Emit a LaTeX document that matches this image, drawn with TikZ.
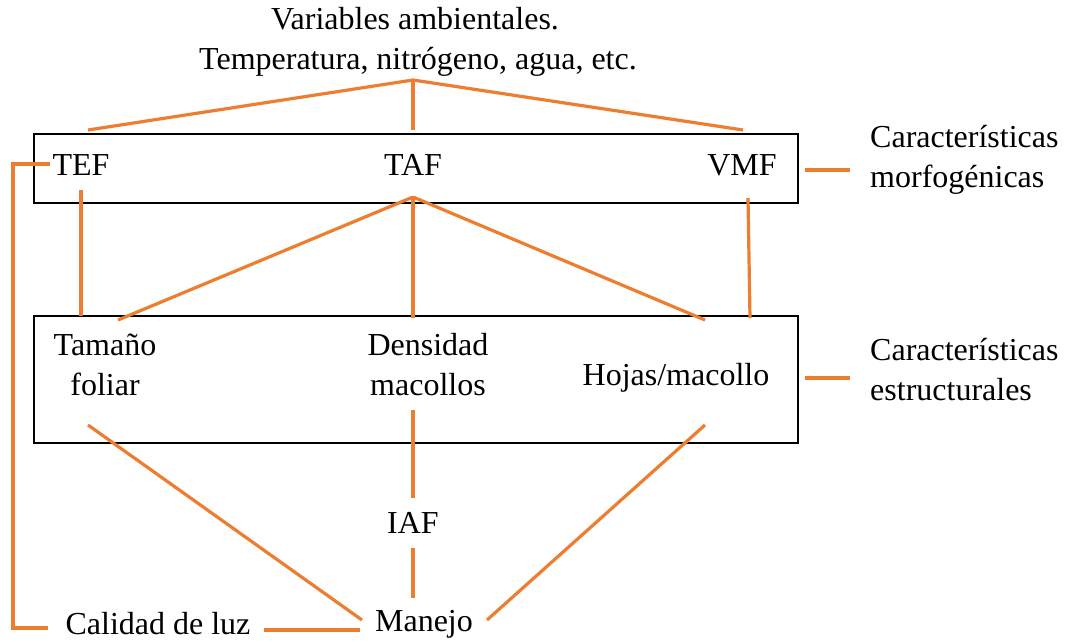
\documentclass[tikz,border=0pt]{standalone}
\usepackage{fontspec}
\setmainfont{Liberation Serif}
\definecolor{lineor}{HTML}{ED7D31}
\begin{document}
\begin{tikzpicture}[x=1pt,y=-1pt,
  lbl/.style={font=\fontsize{32}{40}\selectfont, inner sep=0pt, align=center, text=black},
  conn/.style={draw=lineor, line width=3.2pt},
  frame/.style={draw=black, line width=2.4pt}]
\useasboundingbox (0,0) rectangle (1065,641);
% frames
\node[frame, minimum width=764pt, minimum height=69pt, anchor=north west, inner sep=0pt] (box1) at (33,133) {};
\node[frame, minimum width=764pt, minimum height=127pt, anchor=north west, inner sep=0pt] (box2) at (33,315) {};
% texts
\node[lbl] (var) at (415,19) {Variables ambientales.};
\node[lbl] (temp) at (418,62) {Temperatura, nitrógeno, agua, etc.};
\node[lbl] (tef) at (81,165) {TEF};
\node[lbl] (taf) at (413,165) {TAF};
\node[lbl] (vmf) at (742,165) {VMF};
\node[lbl] (tam) at (105,365) {Tamaño\\foliar};
\node[lbl] (den) at (428,365) {Densidad\\macollos};
\node[lbl] (hoj) at (676,378) {Hojas/macollo};
\node[lbl] (iaf) at (413,523) {IAF};
\node[lbl] (cal) at (158,624) {Calidad de luz};
\node[lbl] (man) at (424,624) {Manejo};
\node[lbl, align=left, anchor=west] (cm) at (870,160) {Características\\morfogénicas};
\node[lbl, align=left, anchor=west] (ce) at (870,370) {Características\\estructurales};
% junction coordinates
\coordinate (j0) at (413,80);
\coordinate (t1) at (88,130);
\coordinate (t2) at (413,130);
\coordinate (t3) at (743,130);
\coordinate (tefL) at (50,164);
\coordinate (c1) at (13,164);
\coordinate (c2) at (13,628);
\coordinate (calL) at (48,628);
\coordinate (tefB) at (81,190);
\coordinate (tamT) at (81,316);
\coordinate (tafB) at (413,197);
\coordinate (tamT2) at (118,320);
\coordinate (denT) at (413,318);
\coordinate (hojT) at (705,320);
\coordinate (vmfB) at (748,198);
\coordinate (hojT2) at (750,318);
\coordinate (tamB) at (88,425);
\coordinate (manL) at (362,620);
\coordinate (denB) at (413,410);
\coordinate (iafT) at (413,498);
\coordinate (iafB) at (413,548);
\coordinate (manT) at (413,598);
\coordinate (hojB) at (705,425);
\coordinate (manR) at (487,620);
\coordinate (calR) at (264,630);
\coordinate (manL2) at (360,630);
\coordinate (b1R) at (805,170);
\coordinate (cmL) at (850,170);
\coordinate (b2R) at (805,378);
\coordinate (ceL) at (850,378);
% connectors
\draw[conn] (t1) -- (j0) -- (t3);
\draw[conn] (j0) -- (t2);
\draw[conn] (tefL) -- (c1) -- (c2) -- (calL);
\draw[conn] (tefB) -- (tamT);
\draw[conn] (tafB) -- (tamT2);
\draw[conn] (tafB) -- (denT);
\draw[conn] (tafB) -- (hojT);
\draw[conn] (vmfB) -- (hojT2);
\draw[conn] (tamB) -- (manL);
\draw[conn] (denB) -- (iafT);
\draw[conn] (iafB) -- (manT);
\draw[conn] (hojB) -- (manR);
\draw[conn] (calR) -- (manL2);
\draw[conn] (b1R) -- (cmL);
\draw[conn] (b2R) -- (ceL);
\end{tikzpicture}
\end{document}
